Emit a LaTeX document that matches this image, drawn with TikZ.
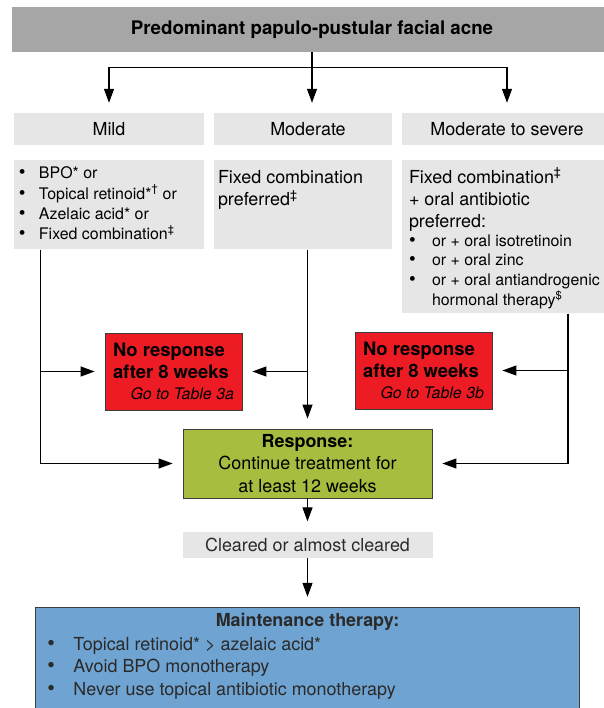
\documentclass[tikz,border=0pt]{standalone}
\usepackage{fontspec}
\setmainfont{TeX Gyre Heros}
\usepackage{xcolor}
\usepackage{tikz}
\usetikzlibrary{arrows.meta,positioning}

\definecolor{headgray}{HTML}{A6A6A6}
\definecolor{boxgray}{HTML}{E6E6E6}
\definecolor{stopred}{HTML}{ED1C24}
\definecolor{respgreen}{HTML}{A6BD40}
\definecolor{maintblue}{HTML}{6FA3D1}
\definecolor{edgegray}{HTML}{3C3C3C}
\definecolor{softblack}{HTML}{2A2A2A}

\newcommand{\blt}{\scalebox{1.2}{\textbullet}}

\begin{document}
\begin{tikzpicture}[
    x=1bp, y=-1bp,
    font=\fontsize{18}{22.5}\selectfont,
    head/.style={fill=headgray, minimum width=600bp, minimum height=45bp, inner sep=0pt, font=\fontsize{18.8}{22}\selectfont\bfseries},
    level/.style={fill=boxgray, minimum height=32bp, inner sep=0pt},
    txtbox/.style={fill=boxgray, inner xsep=0pt, inner ysep=4bp},
    nrbox/.style={draw=edgegray, line width=0.8bp, fill=stopred, minimum width=137bp, minimum height=77bp, inner sep=0pt},
    respbox/.style={draw=edgegray, line width=0.8bp, fill=respgreen, minimum width=249bp, minimum height=69bp, inner sep=0pt, align=center},
    maintbox/.style={draw=edgegray, line width=0.8bp, fill=maintblue, minimum width=544bp, inner xsep=0pt, inner ysep=4bp, text=softblack},
    arr/.style={-{Triangle[length=14bp,width=10bp]}, line width=1.1bp, shorten >=10bp}
]
\useasboundingbox (0,0) rectangle (604,708);

\node[head] (top) at (312,29.5) {Predominant papulo-pustular facial acne};

\node[level, minimum width=190bp] (mild) at (109,129) {Mild};
\node[level, minimum width=178bp] (moderate) at (303,129) {\hspace*{10bp}Moderate};
\node[level, minimum width=210bp] (severe) at (507,129) {Moderate to severe};

\node[txtbox, minimum width=190bp, below=15bp of mild] (mildtx) {\parbox[c][81bp][t]{180bp}{\fontsize{16}{20.5}\selectfont
  \begin{tabular}{@{}p{20bp}@{}l@{}}
  \blt & BPO* or\\
  \blt & Topical retinoid*\textsuperscript{\textdagger} or\\
  \blt & Azelaic acid* or\\
  \blt & Fixed combination\textsuperscript{\textdaggerdbl}
  \end{tabular}}};
\node[txtbox, minimum width=178bp, below=15bp of moderate] (modtx) {\parbox[c][81bp][t]{170bp}{\raggedright\vspace*{3bp}\strut
  Fixed combination\\preferred\textsuperscript{\textdaggerdbl}}};
\node[txtbox, minimum width=210bp, below=15bp of severe] (sevtx) {\parbox[c][145bp][t]{196bp}{\raggedright\vspace*{3bp}\strut
  Fixed combination\textsuperscript{\textdaggerdbl}\\+ oral antibiotic\\preferred:\par
  {\fontsize{16}{19.5}\selectfont
  \begin{tabular}{@{}p{23bp}@{}l@{}}
  \blt & or + oral isotretinoin\\
  \blt & or + oral zinc\\
  \blt & or + oral antiandrogenic\\
   & hormonal therapy\textsuperscript{\$}
  \end{tabular}}}};

\node[nrbox] (nr3a) at (173.5,371.5) {\parbox{121bp}{\raggedright\fontsize{18.5}{22}\selectfont\bfseries
  No response\\after 8 weeks\\\hspace*{\fill}\mdseries\itshape\fontsize{16}{22}\selectfont Go to Table 3a}};
\node[nrbox] (nr3b) at (423.5,370.5) {\parbox{121bp}{\raggedright\fontsize{18.5}{22}\selectfont\bfseries
  No response\\after 8 weeks\\\hspace*{\fill}\mdseries\itshape\fontsize{16}{22}\selectfont Go to Table 3b}};

\node[respbox] (resp) at (307.5,463.5) {\textbf{Response:}\\Continue treatment for\\at least 12 weeks};
\node[level, minimum width=250bp, minimum height=26bp, text=softblack, below=33bp of resp] (cleared) {Cleared or almost cleared};

\node[maintbox, below=49bp of cleared] (maint) {\parbox[c][106bp][t]{520bp}{\centering\strut\textbf{Maintenance therapy:}\par\raggedright
  \begin{tabular}{@{}p{26bp}@{}l@{}}
  \blt & Topical retinoid* > azelaic acid*\\
  \blt & Avoid BPO monotherapy\\
  \blt & Never use topical antibiotic monotherapy
  \end{tabular}}};

\draw[arr] (top.south) -- ++(0,15) -| (mild.north);
\draw[arr] (top.south) -- ++(0,15) -| (severe.north);
\draw[arr] (top.south) -- (top.south |- moderate.north);
\draw[arr] ([xshift=27bp]mildtx.south west) |- (nr3a.west);
\draw[arr] ([xshift=27bp]mildtx.south west) |- (resp.west);
\draw[arr] (resp.north |- modtx.south) -- (resp.north);
\draw[arr] (resp.north |- nr3a.east) -- (nr3a.east);
\draw[arr] ([xshift=61bp]sevtx.south) |- (nr3b.east);
\draw[arr] ([xshift=61bp]sevtx.south) |- (resp.east);
\draw[arr] (resp) -- (cleared);
\draw[arr] (cleared) -- (maint);
\end{tikzpicture}
\end{document}
